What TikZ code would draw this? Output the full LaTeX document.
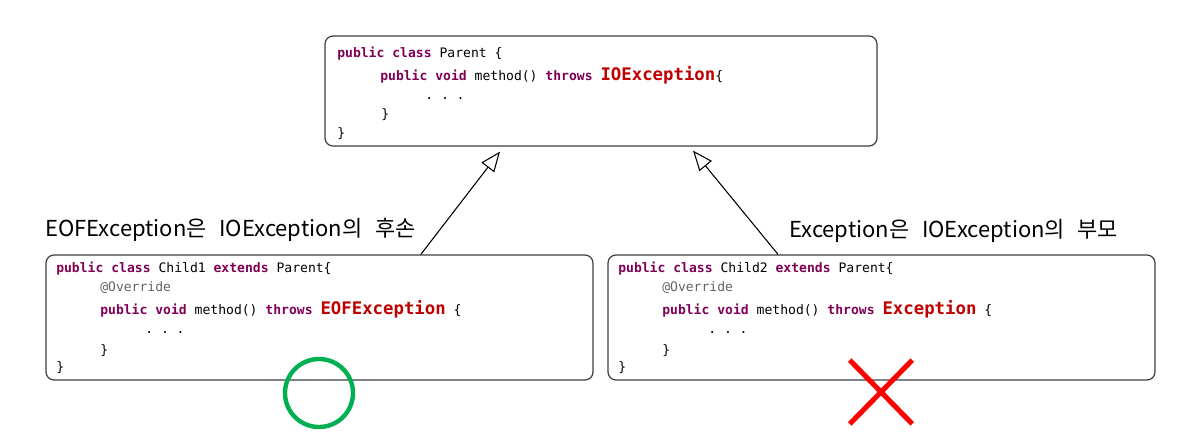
\documentclass[tikz,border=0pt]{standalone}
\usepackage{fontspec}
\setmonofont{DejaVu Sans Mono}
\newfontfamily\krfont{Noto Sans CJK KR}
\usetikzlibrary{arrows.meta,shapes.misc}
\definecolor{kwpurple}{RGB}{127,0,85}
\definecolor{excred}{RGB}{192,0,0}
\definecolor{annogray}{RGB}{100,100,100}
\definecolor{boxgray}{RGB}{60,60,70}
\definecolor{okgreen}{RGB}{0,176,80}
\newcommand{\kw}[1]{\textbf{\color{kwpurple}#1}}
\newcommand{\exc}[1]{{\fontsize{13pt}{14pt}\selectfont\bfseries\color{excred}#1}}
\newcommand{\krtext}{\krfont\fontsize{16.5pt}{18pt}\selectfont\spaceskip=9.5pt\relax}
\tikzset{
  codebox/.style={draw=boxgray, line width=0.9pt, rounded corners=6pt, inner sep=0pt},
  codeline/.style={anchor=base west, inner sep=0pt, font=\ttfamily\fontsize{9.8pt}{12pt}\selectfont},
  note/.style={anchor=base west, inner sep=0pt, font=\krtext},
  inherit/.style={-{Triangle[open, length=15pt, width=12pt]}, line width=0.8pt},
}
\begin{document}
\begin{tikzpicture}[x=0.75pt,y=-0.75pt]% ------ Parent / Child1 / Child2 ----------------
    \useasboundingbox (0,0) rectangle (1199,436);
    % boxes
    \node [codebox, minimum width=414pt, minimum height=82.5pt] (parent) at (601,91) {};
    \node [codebox, minimum width=410.25pt, minimum height=93.75pt] (child1) at (319.5,317.5) {};
    \node [codebox, minimum width=410.25pt, minimum height=93.75pt] (child2) at (881.5,317.5) {};
    % Parent
    \node [codeline] (p1) at (337,57) {\kw{public class} Parent \{};
    \node [codeline] (p2) at (380,80) {\kw{public void} method() \kw{throws} \exc{IOException}\{};
    \node [codeline] (p3) at (425,99) {. . .};
    \node [codeline] (p4) at (381,118) {\}};
    \node [codeline] (p5) at (337,137) {\}};
    % Child1
    \node [codeline] (a1) at (56,272) {\kw{public class} Child1 \kw{extends} Parent\{};
    \node [codeline] (a2) at (100,291) {\color{annogray}@Override};
    \node [codeline] (a3) at (100,314) {\kw{public void} method() \kw{throws} \exc{EOFException} \{};
    \node [codeline] (a4) at (145,333) {. . .};
    \node [codeline] (a5) at (100,354) {\}};
    \node [codeline] (a6) at (56,371) {\}};
    % Child2
    \node [codeline] (b1) at (618,272) {\kw{public class} Child2 \kw{extends} Parent\{};
    \node [codeline] (b2) at (662,291) {\color{annogray}@Override};
    \node [codeline] (b3) at (662,314) {\kw{public void} method() \kw{throws} \exc{Exception} \{};
    \node [codeline] (b4) at (708,333) {. . .};
    \node [codeline] (b5) at (662,354) {\}};
    \node [codeline] (b6) at (618,371) {\}};
    % labels
    \node [note] (n1) at (45,236) {EOFException은 IOException의 후손};
    \node [note] (n2) at (789,237) {Exception은 IOException의 부모};
    % arrows
    \coordinate (tip1) at ([xshift=-75.75pt,yshift=-3.75pt]parent.south);
    \coordinate (tip2) at ([xshift=69pt,yshift=-3pt]parent.south);
    \draw [inherit] ([xshift=76pt]child1.north) -- (tip1);
    \draw [inherit] ([xshift=-77.6pt]child2.north) -- (tip2);
    % marks
    \node [circle, draw=okgreen, line width=3.3pt, minimum size=51pt] (ok) at (319,393) {};
    \node [cross out, draw=red, line width=3.8pt, minimum width=43pt, minimum height=44pt, inner sep=0pt] (ng) at (881,392) {};
\end{tikzpicture}
\end{document}
